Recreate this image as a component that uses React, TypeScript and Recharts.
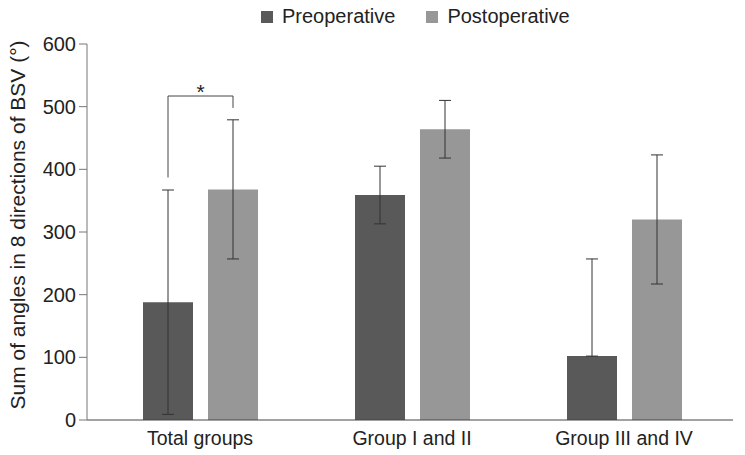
import React from "react";
import { BarChart, Bar, XAxis, YAxis, ErrorBar, Legend } from "recharts";

const categories = ["Total groups", "Group I and II", "Group III and IV"];
const preValues = [188, 359, 102];
const preErrors: [number, number][] = [[179, 179], [46, 46], [0, 155]];
const postValues = [368, 464, 320];
const postErrors: [number, number][] = [[111, 111], [46, 46], [103, 103]];
const yTicks = [0, 100, 200, 300, 400, 500, 600];
const seriesNames = ["Preoperative", "Postoperative"];
const colors = ["#595959", "#979797"];
// significance bracket (data units)
const bracketTop = 517;
const bracketLeftBottom = 387;
const bracketRightBottom = 498;
const starValue = 530;

const data = categories.map((c, i) => ({
  name: c,
  pre: preValues[i],
  preErr: preErrors[i],
  post: postValues[i],
  postErr: postErrors[i],
}));

const FONT = "'Liberation Sans', Arial, Helvetica, sans-serif";
const BAR_SIZE = 50;
const BAR_GAP = 15;

const Bracket = (props: any) => {
  const { x, y, width, height, value, index } = props;
  if (index !== 0) return null;
  const ppu = height / value;
  const base = y + height;
  const yv = (v: number) => base - v * ppu;
  const lx = x + width / 2;
  const rx = x + width * 1.5 + BAR_GAP;
  return (
    <g>
      <path
        d={`M${lx},${yv(bracketLeftBottom)} L${lx},${yv(bracketTop)} L${rx},${yv(bracketTop)} L${rx},${yv(bracketRightBottom)}`}
        stroke="#444"
        strokeWidth={1}
        fill="none"
      />
      <text x={(lx + rx) / 2} y={yv(starValue)} textAnchor="middle" dominantBaseline="central" fontSize={21} fontFamily={FONT} fill="#222" dy={4}>
        *
      </text>
    </g>
  );
};

const LegendContent = () => (
  <div style={{ display: "flex", alignItems: "center", fontFamily: FONT, fontSize: 20, color: "#222", whiteSpace: "nowrap" }}>
    {seriesNames.map((n, i) => (
      <div key={n} style={{ display: "flex", alignItems: "center", marginRight: i === 0 ? 31 : 0 }}>
        <span style={{ display: "inline-block", width: 12, height: 12, background: colors[i], marginRight: 9 }} />
        <span>{n}</span>
      </div>
    ))}
  </div>
);

export default function App() {
  return (
    <div style={{ position: "absolute", left: 0, top: 0, background: "#fff" }}>
      <BarChart
        width={745}
        height={455}
        data={data}
        margin={{ top: 44, right: 12, left: 27, bottom: 5 }}
        barSize={BAR_SIZE}
        barGap={BAR_GAP}
      >
        <Legend
          layout="horizontal"
          verticalAlign="middle"
          align="center"
          content={<LegendContent />}
          wrapperStyle={{ position: "absolute", top: 5, left: 261, width: "auto", height: "auto" }}
        />
        <XAxis
          dataKey="name"
          padding={{ left: 7, right: 3 }}
          tickLine={false}
          tickSize={6}
          tickMargin={5}
          height={30}
          axisLine={{ stroke: "#444" }}
          tick={{ fontSize: 19.5, fill: "#222", fontFamily: FONT }}
          interval={0}
        />
        <YAxis
          domain={[0, 600]}
          ticks={yTicks}
          width={60}
          tickSize={8}
          tickMargin={3}
          axisLine={{ stroke: "#777" }}
          tickLine={{ stroke: "#777" }}
          tick={{ fontSize: 20, fill: "#222", fontFamily: FONT }}
          label={{
            content: () => (
              <text
                x={17}
                y={225}
                transform="rotate(-90 17 225)"
                textAnchor="middle"
                dominantBaseline="central"
                fontSize={21}
                fontFamily={FONT}
                fill="#222"
              >
                Sum of angles in 8 directions of BSV (°)
              </text>
            ),
          }}
        />
        <Bar dataKey="pre" name={seriesNames[0]} fill={colors[0]} isAnimationActive={false} label={<Bracket />}>
          <ErrorBar dataKey="preErr" width={6} stroke="#333" strokeWidth={1} direction="y" />
        </Bar>
        <Bar dataKey="post" name={seriesNames[1]} fill={colors[1]} isAnimationActive={false}>
          <ErrorBar dataKey="postErr" width={6} stroke="#333" strokeWidth={1} direction="y" />
        </Bar>
      </BarChart>
    </div>
  );
}
